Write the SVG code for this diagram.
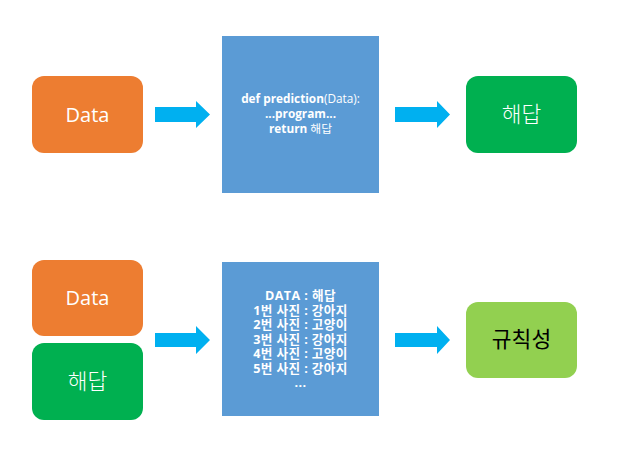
<svg xmlns="http://www.w3.org/2000/svg" width="627" height="471" viewBox="0 0 627 471">
<style>
text{font-family:"Open Sans","Noto Sans","Noto Sans CJK KR",sans-serif;text-anchor:middle}
.lbl{font-size:20px;fill:#fff}
.ko{font-family:"Noto Sans CJK KR","Open Sans",sans-serif;font-size:21.5px;font-weight:300}
.dark{fill:#000;font-weight:400}
.code{font-size:11.8px;fill:#fff;font-weight:bold}
.code .n{font-weight:normal}
.list{font-size:12.6px;fill:#fff;font-weight:bold;letter-spacing:0.4px}
.arrow{fill:#00B0F0}
</style>
<rect width="627" height="471" fill="#fff"/>
<g id="connectors">
<polygon class="arrow" points="155,107 196,107 196,101 210,114.5 196,128 196,122 155,122"/>
<polygon class="arrow" points="395,107 437,107 437,101 450,114.5 437,128 437,122 395,122"/>
<polygon class="arrow" points="155,333 196,333 196,326 210,340 196,354 196,347 155,347"/>
<polygon class="arrow" points="395,333 437,333 437,326 450,340 437,354 437,347 395,347"/>
</g>
<g id="data1">
<rect x="32" y="76" width="111" height="77" rx="12" fill="#ED7D31"/>
<text class="lbl" x="87.5" y="122">Data</text>
</g>
<g id="program">
<rect x="222" y="36" width="157" height="157" fill="#5B9BD5"/>
<text class="code" x="300.5" y="103">def prediction<tspan class="n">(Data):</tspan></text>
<text class="code" x="300.5" y="118">...program...</text>
<text class="code" x="300.5" y="133">return <tspan class="n">해답</tspan></text>
</g>
<g id="answer1">
<rect x="466" y="76" width="111" height="77" rx="12" fill="#00B050"/>
<text class="lbl ko" x="521.5" y="122">해답</text>
</g>
<g id="data2">
<rect x="32" y="260" width="111" height="76" rx="12" fill="#ED7D31"/>
<text class="lbl" x="87.5" y="305">Data</text>
</g>
<g id="answer2">
<rect x="32" y="343" width="111" height="77" rx="12" fill="#00B050"/>
<text class="lbl ko" x="87.5" y="389">해답</text>
</g>
<g id="dataset">
<rect x="222" y="262" width="157" height="154" fill="#5B9BD5"/>
<text class="list" x="300.5" y="300">DATA : 해답</text>
<text class="list" x="300.5" y="314.5">1번 사진 : 강아지</text>
<text class="list" x="300.5" y="329">2번 사진 : 고양이</text>
<text class="list" x="300.5" y="343.5">3번 사진 : 강아지</text>
<text class="list" x="300.5" y="358">4번 사진 : 고양이</text>
<text class="list" x="300.5" y="372.5">5번 사진 : 강아지</text>
<text class="list" x="300.5" y="387">...</text>
</g>
<g id="rule">
<rect x="466" y="302" width="111" height="76" rx="12" fill="#92D050"/>
<text class="lbl ko dark" x="521.5" y="347">규칙성</text>
</g>
</svg>
